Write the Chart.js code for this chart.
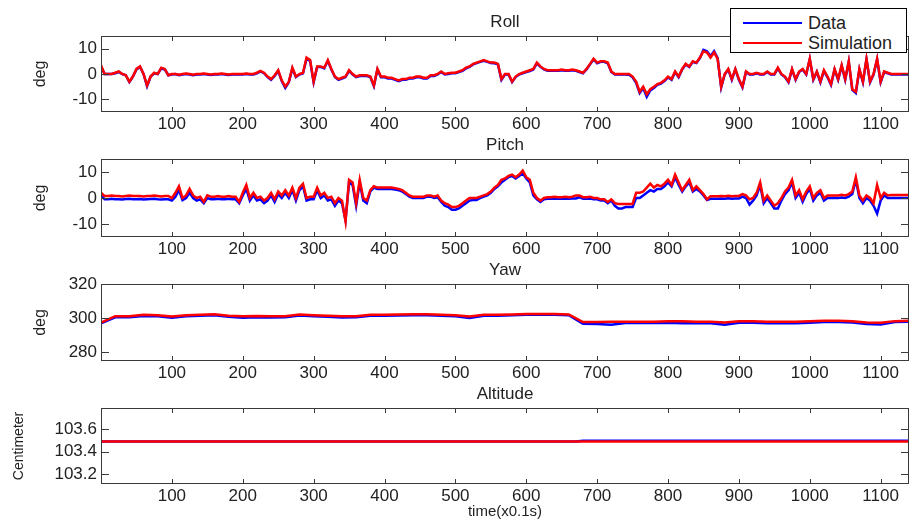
<!DOCTYPE html>
<html>
<head>
<meta charset="utf-8">
<script src="https://cdn.jsdelivr.net/npm/chart.js@4.4.1/dist/chart.umd.min.js"></script>
<style>
  html, body { margin: 0; padding: 0; background: #fff; }
  #wrap { position: relative; width: 910px; height: 520px; overflow: hidden; font-family: "Liberation Sans", Arial, sans-serif; }
  #wrap canvas { position: absolute; left: 0; }
  #legend { position: absolute; left: 730px; top: 8px; width: 175px; height: 43px; border: 1px solid #000; background: #fff; z-index: 5; }
  #legend .row { position: absolute; left: 0; height: 20px; width: 100%; }
  #legend .swatch { position: absolute; left: 12px; top: 9px; width: 59px; height: 2px; }
  #legend .lbl { position: absolute; left: 77px; top: 0; line-height: 20px; font-size: 18px; color: #222; }
</style>
</head>
<body>
<div id="wrap">
  <canvas id="roll" width="910" height="142" style="top:0px"></canvas>
  <canvas id="pitch" width="910" height="144" style="top:123px"></canvas>
  <canvas id="yaw" width="910" height="143" style="top:248px"></canvas>
  <canvas id="alt" width="910" height="150" style="top:372px"></canvas>
  <div id="legend">
    <div class="row" style="top:4px"><span class="swatch" style="background:#0000ff"></span><span class="lbl">Data</span></div>
    <div class="row" style="top:24px"><span class="swatch" style="background:#ff0000"></span><span class="lbl">Simulation</span></div>
  </div>
</div>
<script>
// sampling grid (x0.1 s)
const time = Array.from({ length: 229 }, (_, i) => i * 5);
const yawTime = Array.from({ length: 58 }, (_, i) => i * 20);
const altTime = [0, 670, 680, 1140];

const xTicks = [100, 200, 300, 400, 500, 600, 700, 800, 900, 1000, 1100];
const attTicks = [-10, 0, 10];
const yawTicks = [280, 300, 320];
const altTicks = [103.2, 103.4, 103.6];

const rollSim = [
  3.5, 0, 0, 0, 0.5, 1, 0, -0.5, -3, -1, 2, 3, 0, -4.5, -1, 0.5, 0, 2.5, 2, -0.5,
  0, 0, -0.3, 0, 0.2, 0, -0.3, 0, 0, 0.2, 0, -0.2, 0, 0, 0.2, 0, -0.2, 0, 0, 0,
  0, 0.2, 0, 0, 0.5, 1.2, 0.5, -1, -2, -0.5, 1.5, -2.5, -5, -3, 2.5, -1, 0, 0.5, 6.5, 5.5,
  -3, 3, 3, 2.5, 5.5, 2, -1, -2, -1.5, -1, 1.5, 0, -1, -0.5, -0.5, -0.5, -1, -4.5, 2, -1,
  -1, -1.5, -1.5, -2, -2.5, -2, -2, -1.5, -1.5, -1, -1, -1.5, -1.5, -0.5, -0.5, 0, 1, 0, 0.3, 0.5,
  0.5, 1, 1.5, 2.5, 3, 4, 4.5, 5, 5.5, 5, 4.5, 4.5, 4, -2, 0, 0, -3, -1, 0, 0.5,
  1, 1.5, 2, 4.5, 3, 2, 1.5, 1.5, 1.5, 1.5, 1.8, 1.5, 1.5, 1.8, 1.5, 1, 0.5, 2, 4, 6,
  4.5, 5, 5, 4.5, 1, 0, 0, 0, 0, 0, -1, -3, -7, -5, -8, -6, -5, -4, -3.5, -2.5,
  -1, -2, 1, -1, 2, 4, 3, 5, 4.5, 6.5, 9, 8.5, 6.5, 8.5, 6, -5, 0, 2, -2, 2,
  -2, -5, 1, 0, 0, 0.5, 0, 0, 1, 0, 0, 2.5, 0, -1, -3, 2, -2, 1, 2, 0,
  6, -2, 1, -3, 1.5, -1, -4, 2, -2, 3.5, -2, 5, -6, -7, 2, -3, 6, -3, 0, 6,
  -3, 1, 0.5, 0, 0, 0, 0, 0, 0
];
const rollData = [
  3, 0, 0, 0, 0.3, 0.8, 0, -0.5, -3.2, -1, 1.8, 2.8, 0, -4.8, -1, 0.3, 0, 2.2, 1.8, -0.5,
  -0.2, 0, -0.5, -0.2, 0, -0.2, -0.5, -0.2, -0.2, 0, -0.2, -0.4, -0.2, -0.2, 0, -0.2, -0.4, -0.2, -0.2, -0.2,
  -0.2, 0, -0.2, -0.2, 0.3, 1, 0.3, -1.2, -2.3, -0.8, 1.2, -2.8, -5.5, -3.3, 2.2, -1.2, -0.2, 0.3, 6, 5.2,
  -3.3, 2.8, 2.8, 2.2, 5.2, 1.8, -1.2, -2.3, -1.8, -1.2, 1.2, -0.2, -1.2, -0.8, -0.8, -0.8, -1.2, -4.8, 1.8, -1.3,
  -1.3, -1.8, -1.8, -2.3, -2.8, -2.3, -2.3, -1.8, -1.8, -1.3, -1.3, -1.8, -1.8, -0.8, -0.8, -0.2, 0.8, -0.2, 0, 0.3,
  0.3, 0.8, 1.2, 2.2, 2.8, 3.8, 4.3, 4.8, 5.2, 4.8, 4.3, 4.2, 3.8, -2.3, -0.2, -0.2, -3.2, -1.2, -0.2, 0.3,
  0.8, 1.2, 1.8, 4.2, 2.8, 1.8, 1.3, 1.3, 1.3, 1.3, 1.5, 1.3, 1.3, 1.5, 1.3, 0.8, 0.3, 1.8, 3.8, 5.8,
  4.2, 4.8, 4.8, 4.2, 0.8, -0.2, -0.2, -0.2, -0.2, -0.3, -1.3, -3.5, -7.5, -5.5, -9, -6.5, -5.5, -4.3, -3.8, -2.8,
  -1.3, -2.3, 0.8, -1.3, 1.8, 3.8, 2.8, 4.8, 4.3, 6.3, 9.5, 9, 7, 9, 6.3, -5.3, -0.2, 1.8, -2.3, 1.8,
  -2.3, -5.3, 0.8, -0.2, -0.2, 0.3, -0.2, -0.2, 0.8, -0.2, -0.2, 2.2, -0.2, -1.2, -3.3, 1.8, -2.3, 0.8, 1.8, -0.2,
  5.8, -2.3, 0.8, -3.3, 1.2, -1.3, -4.3, 1.8, -2.3, 3.2, -2.3, 4.8, -6.3, -7.5, 1.8, -3.3, 5.8, -3.3, -0.2, 5.8,
  -3.3, 0.8, 0.3, -0.2, -0.2, -0.2, -0.2, -0.2, -0.2
];

const pitchSim = [
  2, 0.8, 0.8, 1, 0.8, 0.8, 0.6, 0.8, 1, 0.8, 0.8, 0.8, 0.6, 0.8, 0.8, 1, 0.8, 0.6, 0.8, 0.8,
  0, 2, 4.5, 0, 1, 3.5, 1, 0, 0.5, -1.5, 1, 0.5, 0.5, 0.8, 0.5, 0.5, 0.8, 0.5, 0.5, -1.5,
  2, 5, 0, 2, 0, 0.5, -1, 0, 2, -0.5, 2.5, 1, 3, 1, 4, 0, 4, 5.5, 0, 0.5,
  0.5, 4, 1, 2, 0, 0.5, -2, 0, -1, -9, 7, 6, -2, 7, 0, -1, 3, 4.5, 4, 4,
  4, 4, 4, 3.8, 3.5, 3, 2, 1, 0.5, 0.5, 0.5, 0.5, 1, 1, 0.5, 1, -1, -2, -2.5, -3.5,
  -3.5, -3, -2, -1, 0, 0, 0, 0.5, 1, 1.5, 2.5, 4, 5, 7, 7.5, 8.5, 9, 8, 9, 10.5,
  8, 7, 2, 0, -1, 0, 0.3, 0.3, 0.5, 0.3, 0.3, 0.5, 0.3, 0.5, 1, 1, 0.3, 0.3, 0.5, 0,
  0, -0.5, -0.5, -1.5, -0.5, -2, -2.3, -2.3, -2.3, -2.3, -2.3, 2, 2, 2.5, 4, 5.5, 4, 5, 4.5, 5.5,
  7, 5, 9, 6, 3, 5, 7, 3, 4.5, 3, 1.5, -0.5, 0.7, 0.7, 0.7, 0.8, 0.7, 0.9, 0.7, 0.8,
  0.8, 1.5, 1, -0.5, 0, 2, 6, -1, 1, -1, -3, -2, 0, 2.5, 4, 7, 1, 3, -0.5, 2.5,
  4.5, 0, 2, 3, 0, 1, 1, 1, 1, 1.2, 1, 1.5, 2.5, 8, 1, -1, 1, 0, -2, 5,
  0, 2, 1, 1.2, 1.2, 1.2, 1.2, 1.2, 1.2
];
const pitchData = [
  1, -0.5, -0.5, -0.3, -0.5, -0.5, -0.6, -0.4, -0.3, -0.5, -0.5, -0.4, -0.6, -0.5, -0.4, -0.3, -0.5, -0.6, -0.5, -0.5,
  -1, 0.5, 3, -0.8, 0, 2, 0, -1, -0.5, -2, 0, -0.5, -0.5, -0.3, -0.5, -0.5, -0.3, -0.5, -0.5, -2,
  1, 3.5, -1, 1, -1, -0.5, -2, -1, 1, -1.5, 1.5, 0, 2, 0, 3, -1, 3, 4.5, -1, -0.5,
  -0.5, 3, 0, 1, -1, -0.5, -3, -1, -2, -8.5, 6, 5, -3, 6, -1, -2, 2.5, 4, 3.5, 3.5,
  3.5, 3.5, 3.5, 3.3, 3, 2.5, 1.5, 0.5, 0, 0, 0, 0, 0.5, 0.5, 0, 0.3, -1.5, -3, -3.5, -4.5,
  -4.5, -4, -3, -2, -1, -0.8, -0.8, 0, 0.5, 1, 2, 3.5, 4.5, 6, 7, 8, 8.5, 7.5, 8.5, 9.5,
  7.5, 6, 1, -0.5, -1.5, -0.5, -0.3, -0.3, -0.2, -0.3, -0.3, -0.2, -0.3, -0.2, -0.2, 0.3, -0.3, -0.3, -0.2, -0.5,
  -0.5, -1, -1, -2, -1, -3, -4, -4, -3.5, -3.5, -3.5, 0, 0, 1, 2, 3, 2.5, 3.5, 3.5, 4.5,
  6, 4.5, 8, 5, 2.5, 4.5, 6, 2.5, 3.5, 2.5, 1, -0.8, -0.3, -0.3, -0.3, -0.2, -0.3, -0.1, -0.3, -0.2,
  -0.2, 0.5, 0, -2.5, -1, 1, 5, -2, 0, -2, -4, -4, -1, 1.5, 3, 6, 0, 2, -1.5, 1.5,
  3.5, -1, 1, 2, -1, 0, 0, 0, 0, 0.2, 0, 0.5, 1.5, 7, 0, -2, 0, -1, -3, -6,
  -1, 1, 0, 0, 0, 0, 0, 0, 0
];

const yawSim = [
  297.5, 301.2, 301.2, 302, 301.8, 301, 301.8, 302, 302.3, 301.5,
  301.2, 301.3, 301.2, 301.2, 302.2, 301.8, 301.5, 301.2, 301.2, 302,
  302, 302.2, 302.3, 302.3, 302, 301.8, 301, 302, 302, 302.2,
  302.5, 302.5, 302.5, 302.2, 297.8, 297.8, 298, 298, 298, 298,
  298.3, 298.3, 298, 298, 297.5, 298.3, 298.3, 298, 298, 298,
  298.2, 298.5, 298.5, 298.3, 297.5, 297.3, 298.3, 298.5
];
const yawData = [
  297, 300.5, 300.5, 301.3, 301.2, 300.3, 301.2, 301.5, 301.8, 300.8,
  300.3, 300.6, 300.4, 300.5, 301.6, 301.2, 300.8, 300.4, 300.5, 301.4,
  301.4, 301.6, 301.7, 301.7, 301.4, 301.2, 300.2, 301.4, 301.5, 301.8,
  302, 302, 302, 301.8, 296.8, 296.6, 296.2, 297.2, 297.2, 297.2,
  297.4, 297, 297.2, 297, 296.2, 297.4, 297.4, 297, 297, 297,
  297.4, 297.8, 297.8, 297.5, 296.6, 296.3, 297.8, 298
];

const altSim = [103.49, 103.49, 103.49, 103.49];
const altData = [103.49, 103.49, 103.497, 103.497];

const FONT = '"Liberation Sans", Arial, Helvetica, sans-serif';

const matlabAxes = {
  id: 'matlabAxes',
  afterDatasetsDraw(chart, args, opts) {
    const { ctx, chartArea: a, scales: { x, y } } = chart;
    ctx.save();
    ctx.strokeStyle = '#3a3a3a';
    ctx.lineWidth = 1;
    ctx.beginPath();
    x.ticks.forEach(t => {
      const px = Math.round(x.getPixelForValue(t.value)) + 0.5;
      ctx.moveTo(px, a.bottom); ctx.lineTo(px, a.bottom - 5);
      ctx.moveTo(px, a.top); ctx.lineTo(px, a.top + 5);
    });
    y.ticks.forEach(t => {
      const py = Math.round(y.getPixelForValue(t.value)) + 0.5;
      ctx.moveTo(a.left, py); ctx.lineTo(a.left + 8, py);
      ctx.moveTo(a.right, py); ctx.lineTo(a.right - 8, py);
    });
    ctx.stroke();
    ctx.strokeRect(a.left + 0.5, a.top + 0.5, a.width - 1, a.height - 1);
    ctx.fillStyle = '#222';
    ctx.font = '17px ' + FONT;
    ctx.textAlign = 'center';
    ctx.textBaseline = 'middle';
    ctx.fillText(opts.title, (a.left + a.right) / 2, a.top - 14);
    ctx.restore();
  }
};

function makeChart(id, title, yLabel, times, data, sim, yMin, yMax, yTicks, xTitle) {
  const pts = v => v.map((val, i) => ({ x: times[i], y: val }));
  const xH = xTitle ? 38 : 30;
  const small = yLabel === 'Centimeter';
  return new Chart(document.getElementById(id), {
    type: 'line',
    data: {
      datasets: [
        { label: 'Simulation', data: pts(sim), borderColor: '#ff0000', borderWidth: 2.5, pointRadius: 0, tension: 0, order: 0 },
        { label: 'Data', data: pts(data), borderColor: '#0000ff', borderWidth: 2.5, pointRadius: 0, tension: 0, order: 1 }
      ]
    },
    options: {
      responsive: false,
      animation: false,
      events: [],
      layout: { padding: { top: 36, right: 1, left: 0, bottom: 0 } },
      plugins: {
        legend: { display: false },
        tooltip: { enabled: false },
        matlabAxes: { title: title }
      },
      scales: {
        x: {
          type: 'linear',
          min: 0,
          max: 1140,
          grid: { display: false, drawTicks: false },
          border: { display: false },
          afterBuildTicks: s => { s.ticks = xTicks.map(v => ({ value: v })); },
          afterFit: s => { s.height = xH; },
          ticks: {
            color: '#222', font: { family: FONT, size: 17 }, padding: 2, maxRotation: 0, autoSkip: false,
            callback: v => String(v)
          },
          title: { display: !!xTitle, text: xTitle || '', color: '#222', font: { family: FONT, size: 15 }, padding: { top: 0, bottom: 1 } }
        },
        y: {
          min: yMin,
          max: yMax,
          grid: { display: false, drawTicks: false },
          border: { display: false },
          afterBuildTicks: s => { s.ticks = yTicks.map(v => ({ value: v })); },
          afterFit: s => { s.width = 101; },
          ticks: {
            color: '#222', font: { family: FONT, size: 17 }, padding: 4,
            callback: v => (small ? v.toFixed(1) : String(v))
          },
          title: {
            display: true, text: yLabel, color: '#222',
            font: { family: FONT, size: small ? 14 : 16 },
            padding: { top: small ? 11 : 31, bottom: 0 }
          }
        }
      }
    },
    plugins: [matlabAxes]
  });
}

makeChart('roll', 'Roll', 'deg', time, rollData, rollSim, -15, 15, attTicks);
makeChart('pitch', 'Pitch', 'deg', time, pitchData, pitchSim, -15, 15, attTicks);
makeChart('yaw', 'Yaw', 'deg', yawTime, yawData, yawSim, 275, 320, yawTicks);
makeChart('alt', 'Altitude', 'Centimeter', altTime, altData, altSim, 103.11, 103.79, altTicks, 'time(x0.1s)');
</script>
</body>
</html>
